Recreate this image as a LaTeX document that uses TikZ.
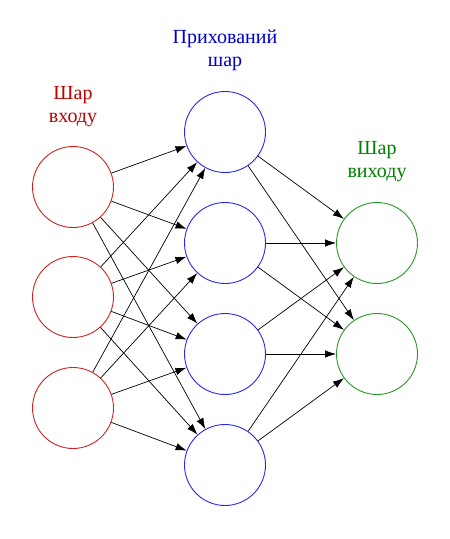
\documentclass[tikz,border=0pt]{standalone}
\usepackage{fontspec}
\setmainfont{Liberation Serif}
\usepackage{tikz}
\usetikzlibrary{arrows.meta}
\usepackage{xcolor}
\definecolor{inred}{RGB}{204,34,34}
\definecolor{intext}{RGB}{190,0,0}
\definecolor{hidblue}{RGB}{40,40,230}
\definecolor{hidtext}{RGB}{0,0,200}
\definecolor{outgreen}{RGB}{40,150,40}
\definecolor{outtext}{RGB}{0,128,0}

\begin{document}
\begin{tikzpicture}[
    x=1pt, y=-1pt,
    neuron/.style={circle, draw, line width=0.9pt, minimum size=81pt, inner sep=0pt},
    innode/.style={neuron, draw=inred},
    hidnode/.style={neuron, draw=hidblue},
    outnode/.style={neuron, draw=outgreen},
    layername/.style={align=center, anchor=base, font=\fontsize{20}{23}\selectfont},
    conn/.style={-{Latex[length=11pt,width=7.5pt]}, line width=0.7pt}
]
\useasboundingbox (0,0) rectangle (450,539);

% Input layer
\node[innode] (in1) at (73,187) {};
\node[innode] (in2) at (73,297) {};
\node[innode] (in3) at (73,408) {};

% Hidden layer
\node[hidnode] (hid1) at (225,132) {};
\node[hidnode] (hid2) at (225,243) {};
\node[hidnode] (hid3) at (225,354) {};
\node[hidnode] (hid4) at (225,465) {};

% Output layer
\node[outnode] (out1) at (377,243) {};
\node[outnode] (out2) at (377,354) {};

% Layer names
\node[layername, text=intext] (inname) at (73,122) {Шар\\входу};
\node[layername, text=hidtext] (hidname) at (225,66) {Прихований\\шар};
\node[layername, text=outtext] (outname) at (377,177) {Шар\\виходу};

% Input -> hidden
\draw[conn] (in1) -- (hid1);
\draw[conn] (in1) -- (hid2);
\draw[conn] (in1) -- (hid3);
\draw[conn] (in1) -- (hid4);
\draw[conn] (in2) -- (hid1);
\draw[conn] (in2) -- (hid2);
\draw[conn] (in2) -- (hid3);
\draw[conn] (in2) -- (hid4);
\draw[conn] (in3) -- (hid1);
\draw[conn] (in3) -- (hid2);
\draw[conn] (in3) -- (hid3);
\draw[conn] (in3) -- (hid4);

% Hidden -> output
\draw[conn] (hid1) -- (out1);
\draw[conn] (hid1) -- (out2);
\draw[conn] (hid2) -- (out1);
\draw[conn] (hid2) -- (out2);
\draw[conn] (hid3) -- (out1);
\draw[conn] (hid3) -- (out2);
\draw[conn] (hid4) -- (out1);
\draw[conn] (hid4) -- (out2);

\end{tikzpicture}
\end{document}
